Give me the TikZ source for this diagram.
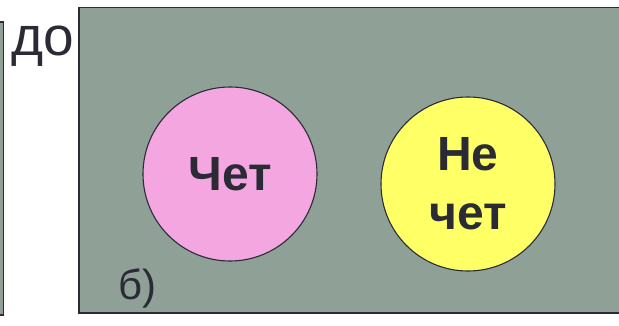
\documentclass[tikz,border=0pt]{standalone}
\usepackage{fontspec}
\setmainfont{Liberation Sans}
\definecolor{boxgray}{RGB}{143,161,151}
\definecolor{chetpink}{RGB}{244,166,224}
\definecolor{nechetyellow}{RGB}{255,255,102}
\definecolor{inkdark}{RGB}{43,43,54}
\tikzset{
  setbox/.style={draw=inkdark, line width=1.5pt, fill=boxgray},
  setcircle/.style={circle, draw=inkdark, line width=1.1pt, inner sep=0pt, minimum size=174pt,
    text=inkdark, font=\fontsize{48}{59}\selectfont\bfseries, align=center},
  plainlabel/.style={inner sep=0pt, text=inkdark}
}
\begin{document}
\begin{tikzpicture}[x=1pt,y=1pt,yscale=-1,xscale=1]
\useasboundingbox (0,0) rectangle (619,325);
\clip (0,0) rectangle (619,325);

%Shape: Rectangle (left, cut off)
\draw [setbox] (-20,22) rectangle (3.5,315);
%Shape: Rectangle (main)
\draw [setbox] (79,7.5) rectangle (640,313);

% Text Node
\node [plainlabel, anchor=base east, font=\fontsize{55}{62}\selectfont] (dotext) at (74,55) {до};

%Shape: Circle
\node [setcircle, fill=chetpink] (chet) at (230,174) {Чет};
%Shape: Circle
\node [setcircle, fill=nechetyellow] (nechet) at (468,184) {Не\\чет};

% Text Node
\node [plainlabel, anchor=base west, font=\fontsize{42}{48}\selectfont] (blabel) at (118,299) {б)};

\end{tikzpicture}
\end{document}
